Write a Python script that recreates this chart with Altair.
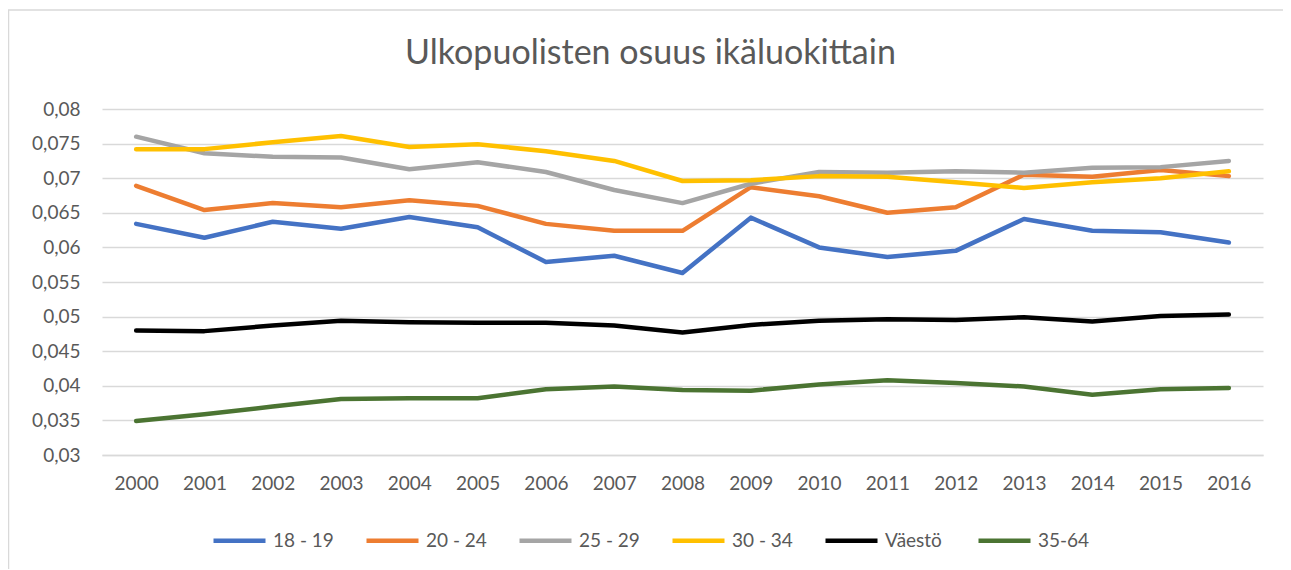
import altair as alt
import pandas as pd

years = [str(y) for y in range(2000, 2017)]
series_names = ["18 - 19", "20 - 24", "25 - 29", "30 - 34", "Väestö", "35-64"]
colors = ["#4472C4", "#ED7D31", "#A5A5A5", "#FFC000", "#000000", "#4B7432"]

v_18_19 = [0.0634, 0.0614, 0.0637, 0.0627, 0.0644, 0.0629, 0.0579, 0.0588, 0.0563,
           0.0643, 0.0600, 0.0586, 0.0595, 0.0641, 0.0624, 0.0622, 0.0607]
v_20_24 = [0.0689, 0.0654, 0.0664, 0.0658, 0.0668, 0.0660, 0.0634, 0.0624, 0.0624,
           0.0687, 0.0674, 0.0650, 0.0658, 0.0705, 0.0702, 0.0712, 0.0703]
v_25_29 = [0.0760, 0.0736, 0.0731, 0.0730, 0.0713, 0.0723, 0.0709, 0.0683, 0.0664,
           0.0692, 0.0709, 0.0708, 0.0710, 0.0708, 0.0715, 0.0716, 0.0725]
v_30_34 = [0.0742, 0.0742, 0.0752, 0.0761, 0.0745, 0.0749, 0.0739, 0.0725, 0.0696,
           0.0697, 0.0703, 0.0702, 0.0694, 0.0686, 0.0694, 0.0700, 0.0710]
v_vaesto = [0.0480, 0.0479, 0.0487, 0.0494, 0.0492, 0.0491, 0.0491, 0.0487, 0.0477,
            0.0488, 0.0494, 0.0496, 0.0495, 0.0499, 0.0493, 0.0501, 0.0503]
v_35_64 = [0.0349, 0.0359, 0.0370, 0.0381, 0.0382, 0.0382, 0.0395, 0.0399, 0.0394,
           0.0393, 0.0402, 0.0408, 0.0404, 0.0399, 0.0387, 0.0395, 0.0397]

y_ticks = [0.03, 0.035, 0.04, 0.045, 0.05, 0.055, 0.06, 0.065, 0.07, 0.075, 0.08]

all_values = [v_18_19, v_20_24, v_25_29, v_30_34, v_vaesto, v_35_64]
rows = []
for si, (name, vals) in enumerate(zip(series_names, all_values)):
    for y, v in zip(years, vals):
        rows.append({"Vuosi": y, "Sarja": name, "Arvo": v, "order": si})
df = pd.DataFrame(rows)

FONT = "Lato"
TXT = "#595959"
GRID = "#D9D9D9"

lines = alt.Chart(df).mark_line(strokeWidth=4.5, strokeCap="round", strokeJoin="round").encode(
    x=alt.X("Vuosi:N", sort=years, title=None,
            scale=alt.Scale(type="point", padding=0.5),
            axis=alt.Axis(labelAngle=0, ticks=False, domain=True, domainColor=GRID,
                          domainWidth=1.5, labelPadding=19, labelFontSize=19,
                          labelColor=TXT, labelFont=FONT, grid=False)),
    y=alt.Y("Arvo:Q", title=None,
            scale=alt.Scale(domain=[0.03, 0.08], nice=False, zero=False),
            axis=alt.Axis(values=y_ticks, ticks=False, domain=False, grid=True,
                          gridColor=GRID, gridWidth=1.5, labelPadding=22,
                          labelFontSize=19, labelColor=TXT, labelFont=FONT,
                          labelExpr="replace(format(datum.value, '.3~f'), '.', ',')")),
    color=alt.Color("Sarja:N", sort=series_names,
                    scale=alt.Scale(domain=series_names, range=colors),
                    legend=alt.Legend(title=None, orient="none", legendX=109, legendY=403,
                                      direction="horizontal", columns=6, gridAlign="all",
                                      columnPadding=23, symbolType="stroke",
                                      symbolSize=2704, symbolStrokeWidth=4.5,
                                      labelOffset=5, labelFontSize=19, labelColor=TXT,
                                      labelFont=FONT)),
    order=alt.Order("order:Q"),
    detail="Sarja:N",
)

border = alt.Chart(pd.DataFrame({"a": [0]})).mark_rect(
    fill=None, stroke=GRID, strokeWidth=1.5
).encode(x=alt.value(-93.5), x2=alt.value(1300), y=alt.value(-99), y2=alt.value(600))

chart = alt.layer(border, lines).properties(
    width=1161, height=346,
    title=alt.TitleParams("Ulkopuolisten osuus ikäluokittain", fontSize=34, font=FONT,
                          color=TXT, fontWeight="normal", anchor="middle", frame="group",
                          baseline="alphabetic", offset=-89, dx=-32),
    padding={"left": 94, "top": 101, "right": 20, "bottom": 114},
    autosize=alt.AutoSizeParams(type="none"),
).configure_view(stroke=None)

chart.save("out.html", embed_options={"renderer": "svg", "actions": False})
